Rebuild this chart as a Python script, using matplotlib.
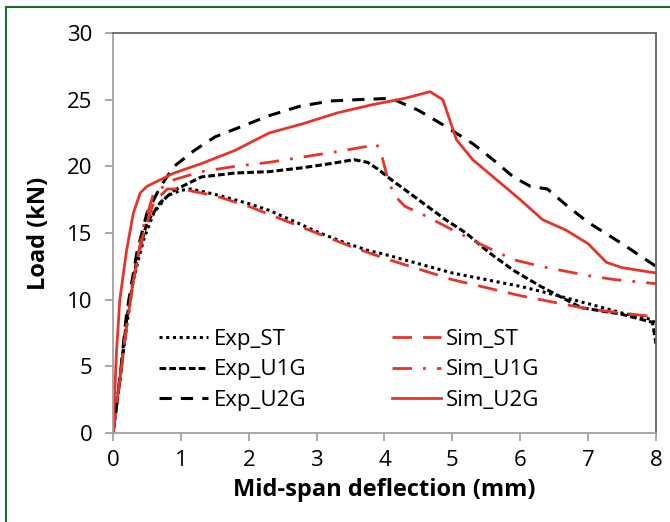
import matplotlib
matplotlib.use('Agg')
import matplotlib.pyplot as plt
from matplotlib.lines import Line2D

# datos (deflexion en mm, carga en kN)
exp_st_x = [0, 0.1, 0.2, 0.3, 0.45, 0.6, 0.8, 1.0, 1.15, 1.5, 2.0, 2.3, 2.7, 3.0, 3.4, 3.75, 4.0, 4.5, 5.0, 5.5, 6.0, 6.4, 7.0, 7.5, 7.95, 8.0]
exp_st_y = [0, 4, 8, 11.5, 14.5, 16.5, 17.8, 18.2, 18.3, 17.9, 17.2, 16.7, 15.8, 15.1, 14.3, 13.7, 13.4, 12.7, 12.0, 11.5, 11.0, 10.5, 9.7, 9.0, 8.5, 8.0]

exp_u1g_x = [0, 0.1, 0.2, 0.35, 0.5, 0.7, 0.9, 1.3, 1.8, 2.3, 2.8, 3.2, 3.55, 3.75, 3.9, 4.1, 4.5, 4.9, 5.2, 5.55, 5.9, 6.3, 6.9, 7.5, 7.95, 8.0]
exp_u1g_y = [0, 4, 8.5, 13, 15.8, 17.3, 18.2, 19.2, 19.5, 19.6, 19.9, 20.2, 20.5, 20.3, 19.8, 19.0, 17.5, 16.0, 15.0, 13.5, 12.2, 11.0, 9.4, 8.9, 8.3, 6.7]

exp_u2g_x = [0, 0.1, 0.2, 0.35, 0.5, 0.7, 0.9, 1.2, 1.5, 1.9, 2.3, 2.75, 3.2, 3.6, 4.1, 4.5, 4.9, 5.3, 5.6, 5.9, 6.15, 6.4, 6.7, 7.0, 7.5, 8.0]
exp_u2g_y = [0, 4, 9, 13.5, 16.5, 18.5, 20, 21.2, 22.2, 23.0, 23.8, 24.5, 24.9, 25.0, 25.1, 24.2, 23.0, 21.7, 20.5, 19.2, 18.5, 18.3, 17.0, 15.8, 14.2, 12.5]

sim_st_x = [0, 0.1, 0.2, 0.3, 0.45, 0.6, 0.8, 1.0, 1.5, 2.0, 2.5, 3.0, 3.5, 4.0, 4.5, 5.0, 5.5, 6.0, 6.5, 7.0, 7.5, 8.0]
sim_st_y = [0, 4, 8, 11.5, 15, 17.3, 18.3, 18.3, 17.8, 17.0, 16.0, 15.0, 14.0, 13.1, 12.3, 11.5, 10.9, 10.3, 9.8, 9.3, 9.0, 8.7]

sim_u1g_x = [0, 0.1, 0.2, 0.3, 0.45, 0.6, 0.9, 1.3, 1.8, 2.3, 2.8, 3.3, 3.75, 3.88, 3.95, 4.05, 4.15, 4.3, 4.6, 4.9, 5.4, 5.9, 6.3, 6.6, 7.0, 7.4, 8.0]
sim_u1g_y = [0, 4, 8, 11.5, 15.5, 18.0, 19.0, 19.6, 20.0, 20.3, 20.7, 21.1, 21.5, 21.7, 21.0, 19.0, 17.8, 17.0, 16.3, 15.5, 14.2, 13.0, 12.5, 12.2, 11.8, 11.5, 11.2]

sim_u2g_x = [0, 0.05, 0.1, 0.2, 0.3, 0.4, 0.5, 0.7, 0.9, 1.3, 1.8, 2.3, 2.8, 3.3, 3.8, 4.3, 4.67, 4.86, 5.06, 5.3, 5.65, 6.0, 6.33, 6.68, 7.0, 7.27, 7.5, 8.0]
sim_u2g_y = [0, 6, 10, 13.7, 16.5, 18.0, 18.5, 19.0, 19.5, 20.2, 21.2, 22.5, 23.2, 24.0, 24.6, 25.1, 25.6, 25.0, 22.0, 20.5, 19.0, 17.5, 16.0, 15.2, 14.2, 12.8, 12.4, 12.0]

xticks = [0, 1, 2, 3, 4, 5, 6, 7, 8]
yticks = [0, 5, 10, 15, 20, 25, 30]

ROJO = '#e5352a'
FUENTE = 'Open Sans'

fig = plt.figure(figsize=(6.7, 5.22), dpi=100)
ax = fig.add_axes([0.1687, 0.1705, 0.979 - 0.1687, 0.9368 - 0.1705])

ax.plot(exp_st_x, exp_st_y, color='black', lw=2.2, linestyle=(0, (1, 1.2)))
ax.plot(exp_u1g_x, exp_u1g_y, color='black', lw=2.2, linestyle=(0, (2.2, 1)))
ax.plot(exp_u2g_x, exp_u2g_y, color='black', lw=2.2, linestyle=(0, (4, 3)))
ax.plot(sim_st_x, sim_st_y, color=ROJO, lw=2, linestyle=(0, (7, 4)))
ax.plot(sim_u1g_x, sim_u1g_y, color=ROJO, lw=2, linestyle=(0, (7, 4, 1, 4)))
ax.plot(sim_u2g_x, sim_u2g_y, color=ROJO, lw=2, linestyle='-')

ax.set_xlim(0, 8)
ax.set_ylim(0, 30)
ax.set_xticks(xticks)
ax.set_yticks(yticks)
ax.tick_params(direction='out', length=6, width=1.2, color='#999999', labelsize=16)
ax.tick_params(axis='x', pad=6)
ax.tick_params(axis='y', pad=9)
for lab in ax.get_xticklabels() + ax.get_yticklabels():
    lab.set_fontfamily(FUENTE)
for s in ['left', 'bottom']:
    ax.spines[s].set_color('#a0a0a0')
    ax.spines[s].set_linewidth(1.3)
for s in ['top', 'right']:
    ax.spines[s].set_color('#666666')
    ax.spines[s].set_linewidth(1.3)

ax.set_xlabel('Mid-span deflection (mm)', fontsize=17, fontweight='bold', fontfamily=FUENTE, labelpad=5)
ax.set_ylabel('Load (kN)', fontsize=17, fontweight='bold', fontfamily=FUENTE, labelpad=11)

# leyenda en dos columnas
handles = [
    Line2D([], [], color='black', lw=2.2, linestyle=(0, (1, 1.2))),
    Line2D([], [], color='black', lw=2.2, linestyle=(0, (2.2, 1))),
    Line2D([], [], color='black', lw=2.2, linestyle=(0, (4, 3))),
    Line2D([], [], color=ROJO, lw=2, linestyle=(0, (7, 4))),
    Line2D([], [], color=ROJO, lw=2, linestyle=(0, (7, 4, 1, 4))),
    Line2D([], [], color=ROJO, lw=2, linestyle='-'),
]
labels = ['Exp_ST', 'Exp_U1G', 'Exp_U2G', 'Sim_ST', 'Sim_U1G', 'Sim_U2G']
ax.legend(handles, labels, ncol=2, loc='upper left', bbox_to_anchor=(0.085, 0.26),
          frameon=False, prop={'family': FUENTE, 'size': 16},
          borderpad=0, borderaxespad=0,
          handlelength=2.2, handletextpad=0.25, columnspacing=3.85, labelspacing=0.42)

# marco verde de la figura
fig.add_artist(Line2D([0.009, 0.009], [0, 0.987], color='#1e6b2e', lw=1.5, transform=fig.transFigure))
fig.add_artist(Line2D([0.009, 1.0], [0.987, 0.987], color='#1e6b2e', lw=1.5, transform=fig.transFigure))

plt.savefig('out.png', dpi=100)
